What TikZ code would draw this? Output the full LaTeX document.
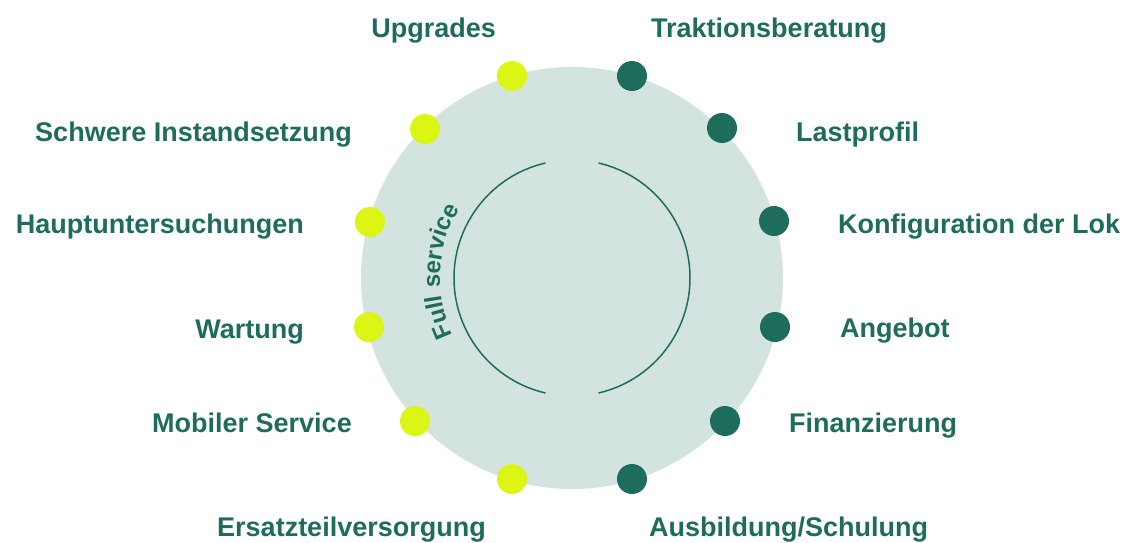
\documentclass[tikz,border=0pt]{standalone}
\usepackage{fontspec}
\setmainfont{Liberation Sans}
\usetikzlibrary{decorations.text}
\definecolor{dg}{HTML}{1E6C5C}
\definecolor{limey}{HTML}{DCF514}
\definecolor{pale}{HTML}{D3E3DF}
\begin{document}
\begin{tikzpicture}[x=1pt,y=1pt,
  lbl/.style={font=\fontsize{27}{30}\selectfont\bfseries, text=dg, inner sep=0pt},
  dotY/.style={circle, fill=limey, minimum size=30pt, inner sep=0pt},
  dotG/.style={circle, fill=dg, minimum size=30pt, inner sep=0pt},
  ring/.style={draw=dg, line width=1.5pt}]
\useasboundingbox (0,0) rectangle (1128,-542);
\coordinate (c) at (572,-278);
\node[circle, fill=pale, minimum size=422pt, inner sep=0pt] (disc) at (c) {};
% inner arcs
\draw[ring] (c) ++(103:118) arc[start angle=103, end angle=257, radius=118];
\draw[ring] (c) ++(77:118) arc[start angle=77, end angle=-77, radius=118];
% curved text
\path[decorate, decoration={text along path, text align=center, text color=dg,
  text={|\fontsize{24}{24}\selectfont\bfseries|Full service}}]
  (c) ++(225:132) arc[start angle=225, end angle=129, radius=132];
% dots
\node[dotY] (y1) at (512,-76) {};
\node[dotY] (y2) at (425,-129) {};
\node[dotY] (y3) at (370,-222) {};
\node[dotY] (y4) at (369,-327) {};
\node[dotY] (y5) at (415,-421) {};
\node[dotY] (y6) at (512,-479) {};
\node[dotG] (g1) at (632,-76) {};
\node[dotG] (g2) at (722,-128) {};
\node[dotG] (g3) at (774,-221) {};
\node[dotG] (g4) at (775,-327) {};
\node[dotG] (g5) at (725,-421) {};
\node[dotG] (g6) at (632,-479) {};
% left labels
\node[lbl, anchor=base east] (l1) at (496,-37) {Upgrades};
\node[lbl, anchor=base east] (l2) at (352,-141) {Schwere Instandsetzung};
\node[lbl, anchor=base east] (l3) at (304,-233) {Hauptuntersuchungen};
\node[lbl, anchor=base east] (l4) at (304,-338) {Wartung};
\node[lbl, anchor=base east] (l5) at (352,-432) {Mobiler Service};
\node[lbl, anchor=base east] (l6) at (486,-536) {Ersatzteilversorgung};
% right labels
\node[lbl, anchor=base west] (r1) at (651,-37) {Traktionsberatung};
\node[lbl, anchor=base west] (r2) at (796,-141) {Lastprofil};
\node[lbl, anchor=base west] (r3) at (838,-233) {Konfiguration der Lok};
\node[lbl, anchor=base west] (r4) at (840,-337) {Angebot};
\node[lbl, anchor=base west] (r5) at (789,-432) {Finanzierung};
\node[lbl, anchor=base west] (r6) at (649,-536) {Ausbildung/Schulung};
\end{tikzpicture}
\end{document}
